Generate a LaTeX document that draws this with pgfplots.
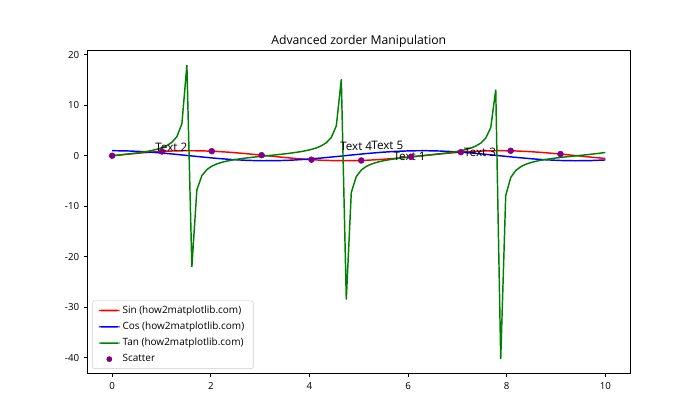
\documentclass[border=0pt]{standalone}
\usepackage{fontspec}
\setmainfont{Open Sans}
\usepackage{pgfplots}
\usepackage{pgfplotstable}
\pgfplotsset{compat=1.18}

\definecolor{mplgreen}{HTML}{008000}
\definecolor{mplpurple}{HTML}{800080}

\pgfplotstableread{
x sin cos
0 0 1
0.30303 0.29841 0.95444
0.60606 0.56963 0.82190
0.90909 0.78895 0.61446
1.21212 0.93636 0.35104
1.51515 0.99845 0.05562
1.81818 0.96956 -0.24487
2.12121 0.85231 -0.52304
2.42424 0.65740 -0.75355
2.72727 0.40257 -0.91539
3.03030 0.11106 -0.99381
3.33333 -0.19057 -0.98167
3.63636 -0.47483 -0.88008
3.93939 -0.71583 -0.69828
4.24242 -0.89159 -0.45286
4.54545 -0.98610 -0.16616
4.84848 -0.99075 0.13567
5.15152 -0.90512 0.42516
5.45455 -0.73701 0.67589
5.75758 -0.50174 0.86502
6.06061 -0.22074 0.97533
6.36364 0.08037 0.99676
6.66667 0.37416 0.92737
6.96970 0.63385 0.77346
7.27273 0.83578 0.54907
7.57576 0.96155 0.27465
7.87879 0.99969 -0.02481
8.18182 0.94674 -0.32200
8.48485 0.80752 -0.58985
8.78788 0.59470 -0.80395
9.09091 0.32770 -0.94479
9.39394 0.03083 -0.99952
9.69697 -0.26884 -0.96319
10.0 -0.54402 -0.83907
}\sincos

\pgfplotstableread{
x tan
0 0
0.10101 0.10135
0.20202 0.20482
0.30303 0.31266
0.40404 0.42755
0.50505 0.55288
0.60606 0.69308
0.70707 0.85445
0.80808 1.04642
0.90909 1.28395
1.01010 1.59256
1.11111 2.01996
1.21212 2.66446
1.31313 3.79475
1.41414 6.33115
1.51515 17.9525
1.61616 -22.0283
1.71717 -6.78293
1.81818 -3.95948
1.91919 -2.75012
2.02020 -2.07327
2.12121 -1.62953
2.22222 -1.31156
2.32323 -1.06820
2.42424 -0.87240
2.52525 -0.70841
2.62626 -0.56638
2.72727 -0.43978
2.82828 -0.32399
2.92929 -0.21555
3.03030 -0.11175
3.13131 -0.01028
3.23232 0.09098
3.33333 0.19413
3.43434 0.30141
3.53535 0.41546
3.63636 0.53953
3.73737 0.67796
3.83838 0.83682
3.93939 1.02512
4.04040 1.25709
4.14141 1.55680
4.24242 1.96878
4.34343 2.58344
4.44444 3.64238
4.54545 5.93461
4.64646 15.1468
4.74747 -28.4905
4.84848 -7.30241
4.94949 -4.13822
5.05051 -2.84070
5.15152 -2.12894
5.25253 -1.66775
5.35354 -1.33990
5.45455 -1.09046
5.55556 -0.89066
5.65657 -0.72396
5.75758 -0.58004
5.85859 -0.45210
5.95960 -0.33539
6.06061 -0.22633
6.16162 -0.12217
6.26263 -0.02056
6.36364 0.08063
6.46465 0.18348
6.56566 0.29024
6.66667 0.40346
6.76768 0.52634
6.86869 0.66307
6.96970 0.81950
7.07071 1.00426
7.17172 1.23091
7.27273 1.52217
7.37374 1.91970
7.47475 2.50930
7.57576 3.50100
7.67677 5.58379
7.77778 13.0979
7.87879 -40.2997
7.97980 -7.90595
8.08081 -4.33274
8.18182 -2.94017
8.28283 -2.18708
8.38384 -1.70729
8.48485 -1.36903
8.58586 -1.11321
8.68687 -0.90926
8.78788 -0.73974
8.88889 -0.59385
8.98990 -0.46454
9.09091 -0.34686
9.19192 -0.23716
9.29293 -0.13262
9.39394 -0.03085
9.49495 0.07029
9.59596 0.17287
9.69697 0.27912
9.79798 0.39155
9.89899 0.51327
10.0 0.64836
}\tantab

\pgfplotstableread{
x y
0 0
1.01010 0.84688
2.02020 0.90071
3.03030 0.11106
4.04040 -0.78259
5.05051 -0.94338
6.06061 -0.22074
7.07071 0.70861
8.08081 0.97438
9.09091 0.32770
}\scat

\begin{document}
\begin{tikzpicture}
\path[use as bounding box] (-63pt,-33.26pt) rectangle (441pt,269.14pt);
\begin{axis}[
  at={(0pt,0pt)}, anchor=south west,
  scale only axis,
  width=390.6pt, height=232.85pt,
  xmin=-0.5, xmax=10.5,
  ymin=-43.21, ymax=20.87,
  xtick={0,2,4,6,8,10},
  ytick={-40,-30,-20,-10,0,10,20},
  tick align=outside,
  major tick length=2.45pt,
  tick style={black, line width=0.56pt},
  xtick pos=bottom, ytick pos=left,
  axis line style={line width=0.56pt},
  /pgf/number format/assume math mode=true,
  ticklabel style={font=\fontsize{7}{8.4}\selectfont},
  title={Advanced zorder Manipulation},
  every axis title/.style={at={(0.5,1)}, anchor=base, yshift=4.6pt, inner sep=0pt, font=\fontsize{8.8}{10}\selectfont},
  legend style={
    font=\fontsize{7.2}{8.6}\selectfont,
    at={(0.009,0.015)}, anchor=south west,
    draw=black!20, rounded corners=1.5pt, fill=white,
    inner xsep=4.5pt, inner ysep=1.5pt,
    row sep=0.75pt,
  },
  legend cell align=left,
]
\addplot[red, line width=1.05pt,
  legend image code/.code={\path[fill=red, draw=none] (0pt,-0.55pt) rectangle (15pt,0.55pt);}]
  table[x=x, y=sin] {\sincos};
\addlegendentry{Sin (how2matplotlib.com)}
\addplot[blue, line width=1.05pt,
  legend image code/.code={\path[fill=blue, draw=none] (0pt,-0.55pt) rectangle (15pt,0.55pt);}]
  table[x=x, y=cos] {\sincos};
\addlegendentry{Cos (how2matplotlib.com)}
\addplot[mplgreen, line width=1.05pt,
  legend image code/.code={\path[fill=mplgreen, draw=none] (0pt,-0.55pt) rectangle (15pt,0.55pt);}]
  table[x=x, y=tan] {\tantab};
\addlegendentry{Tan (how2matplotlib.com)}
\addplot[only marks, mark=*, mark size=2.1pt, mplpurple, mark options={draw=mplpurple, fill=mplpurple},
  legend image code/.code={\path[fill=mplpurple, draw=none] (7.5pt,0pt) circle (2.1pt);}]
  table[x=x, y=y] {\scat};
\addlegendentry{Scatter}
\node[anchor=base west, inner sep=0pt, font=\fontsize{8.4}{10}\selectfont] at (axis cs:5.70,-0.85) {Text 1};
\node[anchor=base west, inner sep=0pt, font=\fontsize{8.4}{10}\selectfont] at (axis cs:0.87,0.79) {Text 2};
\node[anchor=base west, inner sep=0pt, font=\fontsize{8.4}{10}\selectfont] at (axis cs:7.13,-0.2) {Text 3};
\node[anchor=base west, inner sep=0pt, font=\fontsize{8.4}{10}\selectfont] at (axis cs:4.62,1.0) {Text 4};
\node[anchor=base west, inner sep=0pt, font=\fontsize{8.4}{10}\selectfont] at (axis cs:5.25,1.19) {Text 5};
\end{axis}
\end{tikzpicture}
\end{document}
